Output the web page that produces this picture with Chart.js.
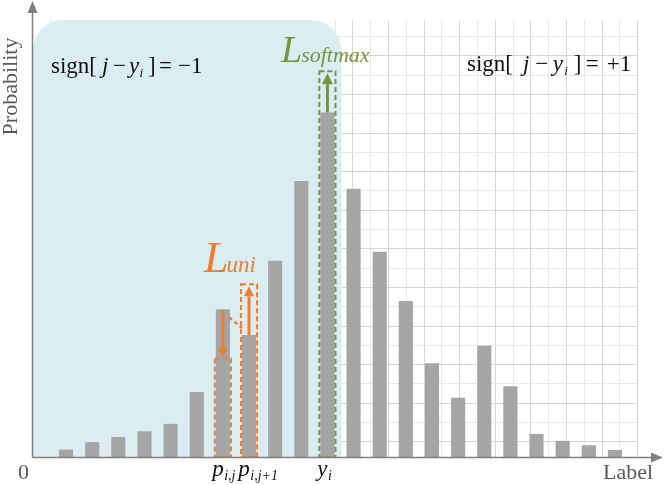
<!DOCTYPE html>
<html>
<head>
<meta charset="utf-8">
<script src="https://cdn.jsdelivr.net/npm/chart.js@4.4.1/dist/chart.umd.min.js"></script>
<style>
  html, body { margin: 0; padding: 0; background: #ffffff; }
  #wrap { width: 664px; height: 485px; }
</style>
</head>
<body>
<div id="wrap"><canvas id="chart" width="664" height="485"></canvas></div>
<script>
// label bins 1..22, predicted probability of each bin
const categories = ["1", "2", "3", "4", "5", "6", "7", "8", "9", "10", "11",
  "12", "13", "14", "15", "16", "17", "18", "19", "20", "21", "22"];
const probabilities = [0.017, 0.034, 0.046, 0.059, 0.076, 0.149, 0.339, 0.280, 0.450, 0.633, 0.790,
  0.615, 0.471, 0.358, 0.215, 0.136, 0.255, 0.162, 0.053, 0.037, 0.027, 0.016];

// annotated bins (indices into categories)
const trueIndex = 10;          // y_i
const uniIndices = [6, 7];     // p_{i,j}, p_{i,j+1}
const uniTargets = [0.226, 0.396];
const softmaxTarget = 0.885;

const tickMarks = [
  { index: 6, base: "p", sub: "i,j" },
  { index: 7, base: "p", sub: "i,j+1" },
  { index: 10, base: "y", sub: "i" },
];

const COLORS = {
  bar: "#a5a5a5",
  region: "#daedf3",
  grid: "#d6d6d6",
  gridLight: "#e8e8e8",
  axis: "#808080",
  axisText: "#595959",
  orange: "#ed7d31",
  green: "#77933c",
  text: "#111111",
};

const SERIF = "'Liberation Serif', 'DejaVu Serif', serif";

function arrow(ctx, x, yFrom, yTo, color, lw, headLen, headHalf) {
  const dir = yTo > yFrom ? 1 : -1;
  ctx.save();
  ctx.strokeStyle = color;
  ctx.fillStyle = color;
  ctx.lineWidth = lw;
  ctx.setLineDash([]);
  ctx.beginPath();
  ctx.moveTo(x, yFrom);
  ctx.lineTo(x, yTo - dir * headLen);
  ctx.stroke();
  ctx.beginPath();
  ctx.moveTo(x, yTo);
  ctx.lineTo(x - headHalf, yTo - dir * headLen);
  ctx.lineTo(x + headHalf, yTo - dir * headLen);
  ctx.closePath();
  ctx.fill();
  ctx.restore();
}

function dashedBox(ctx, bar, yTop, color) {
  ctx.save();
  ctx.strokeStyle = color;
  ctx.lineWidth = 2;
  ctx.setLineDash([5, 3]);
  const l = bar.x - bar.width / 2 - 1;
  const r = bar.x + bar.width / 2 + 1;
  ctx.strokeRect(l, yTop, r - l, bar.base - yTop);
  ctx.restore();
}

// sign[ j - y_i ] = +-1 written piece by piece
function signText(ctx, x, y, rhs, stretch) {
  const runs = [
    { t: "sign[", f: "23px", dx: 0 },
    { t: "j", f: "italic 23px", dx: 51 },
    { t: "\u2212", f: "23px", dx: 62 },
    { t: "y", f: "italic 23px", dx: 78 },
    { t: "i", f: "italic 13px", dx: 88.5, dy: 4 },
    { t: "]", f: "23px", dx: 97 },
    { t: "=", f: "23px", dx: 108 },
    { t: rhs, f: "23px", dx: 127 },
  ];
  ctx.save();
  ctx.fillStyle = COLORS.text;
  ctx.textBaseline = "alphabetic";
  ctx.textAlign = "left";
  runs.forEach((r) => {
    ctx.font = r.f + " " + SERIF;
    ctx.fillText(r.t, x + r.dx * stretch, y + (r.dy || 0));
  });
  ctx.restore();
}

const decorations = {
  id: "decorations",
  beforeDatasetsDraw(chart) {
    const ctx = chart.ctx;
    const meta = chart.getDatasetMeta(0);
    const base = meta.data[0].base;

    // background grid
    ctx.save();
    ctx.lineWidth = 1;
    for (let k = 0; k <= 34; k++) {
      const x = Math.round(32 + k * 17.8) + 0.5;
      ctx.strokeStyle = k % 2 ? COLORS.gridLight : COLORS.grid;
      ctx.beginPath();
      ctx.moveTo(x, 20);
      ctx.lineTo(x, base);
      ctx.stroke();
    }
    for (let k = 0; k <= 21; k++) {
      const y = Math.round(441.3 - k * 19.3) + 0.5;
      ctx.strokeStyle = k % 2 ? COLORS.gridLight : COLORS.grid;
      ctx.beginPath();
      ctx.moveTo(32, y);
      ctx.lineTo(637, y);
      ctx.stroke();
    }

    // shaded region for j < y_i
    const right = meta.data[trueIndex].x + 14;
    ctx.fillStyle = COLORS.region;
    ctx.beginPath();
    ctx.roundRect(33, 20, right - 33, base - 20, [30, 30, 0, 0]);
    ctx.fill();
    ctx.restore();
  },
  afterDatasetsDraw(chart) {
    const ctx = chart.ctx;
    const y = chart.scales.y;
    const meta = chart.getDatasetMeta(0);
    const b0 = meta.data[uniIndices[0]];
    const b1 = meta.data[uniIndices[1]];
    const bt = meta.data[trueIndex];

    // L_uni boxes and arrows
    const t0 = y.getPixelForValue(uniTargets[0]);
    const t1 = y.getPixelForValue(uniTargets[1]);
    dashedBox(ctx, b0, t0, COLORS.orange);
    dashedBox(ctx, b1, t1, COLORS.orange);
    arrow(ctx, b0.x, b0.y + 1, t0 - 1, COLORS.orange, 3, 10, 5);
    arrow(ctx, b1.x, b1.y, t1 + 2, COLORS.orange, 3, 10, 5);
    ctx.save();
    ctx.strokeStyle = COLORS.orange;
    ctx.lineWidth = 2.5;
    ctx.setLineDash([4, 3]);
    ctx.beginPath();
    ctx.moveTo(b0.x + 6, b0.y + 8);
    ctx.lineTo(b1.x - 7, b1.y - 7);
    ctx.stroke();
    ctx.restore();

    // L_softmax box and arrow
    const ts = y.getPixelForValue(softmaxTarget);
    dashedBox(ctx, bt, ts, COLORS.green);
    arrow(ctx, bt.x, bt.y, ts + 2, COLORS.green, 3, 11, 5.5);

    ctx.save();
    ctx.textBaseline = "alphabetic";
    ctx.textAlign = "left";
    ctx.fillStyle = COLORS.orange;
    ctx.font = "italic 44px " + SERIF;
    const lw = ctx.measureText("L").width;
    ctx.fillText("L", 204, 272);
    ctx.font = "italic 23px " + SERIF;
    ctx.fillText("uni", 204 + lw - 2, 272);
    ctx.fillStyle = COLORS.green;
    ctx.font = "italic 38px " + SERIF;
    const ls = ctx.measureText("L").width;
    ctx.fillText("L", 281, 62);
    ctx.font = "italic 22px " + SERIF;
    ctx.fillText("softmax", 281 + ls - 1, 62);
    ctx.restore();

    signText(ctx, 51, 73, "\u22121", 1);
    signText(ctx, 467, 71, "+1", 1.1);

    // axes with arrow heads
    const axisY = meta.data[0].base + 0.5;
    ctx.save();
    ctx.strokeStyle = COLORS.axis;
    ctx.fillStyle = COLORS.axis;
    ctx.lineWidth = 1.5;
    ctx.beginPath();
    ctx.moveTo(32.5, axisY);
    ctx.lineTo(32.5, 12);
    ctx.moveTo(32.5, axisY);
    ctx.lineTo(652, axisY);
    ctx.stroke();
    ctx.beginPath();
    ctx.moveTo(32.5, 1);
    ctx.lineTo(27.5, 13);
    ctx.lineTo(37.5, 13);
    ctx.closePath();
    ctx.moveTo(663, axisY);
    ctx.lineTo(651, axisY - 5);
    ctx.lineTo(651, axisY + 5);
    ctx.closePath();
    ctx.fill();

    ctx.fillStyle = COLORS.axisText;
    ctx.font = "22px " + SERIF;
    ctx.textAlign = "center";
    ctx.fillText("0", 23.5, 479);
    ctx.textAlign = "left";
    ctx.fillText("Label", 603, 479);
    ctx.translate(17, 86.5);
    ctx.rotate(-Math.PI / 2);
    ctx.textAlign = "center";
    ctx.fillText("Probability", 0, 0);
    ctx.restore();

    // bin labels under the annotated bars
    ctx.save();
    ctx.fillStyle = COLORS.text;
    ctx.textAlign = "left";
    tickMarks.forEach((m) => {
      const bar = meta.data[m.index];
      ctx.font = "italic 23px " + SERIF;
      const w = ctx.measureText(m.base).width;
      const x0 = bar.x - 5 - w / 2;
      ctx.fillText(m.base, x0, 476);
      ctx.font = "italic 14px " + SERIF;
      ctx.fillText(m.sub, x0 + w + 0.5, 480);
    });
    ctx.restore();
  },
};

new Chart(document.getElementById("chart"), {
  type: "bar",
  data: {
    labels: categories,
    datasets: [
      {
        data: probabilities,
        backgroundColor: COLORS.bar,
        borderWidth: 0,
        barPercentage: 0.54,
        categoryPercentage: 1,
      },
    ],
  },
  options: {
    responsive: false,
    animation: false,
    layout: { padding: { left: 53, right: 36, top: 21, bottom: 28 } },
    scales: {
      x: { display: false },
      y: { display: false, min: 0, max: 1 },
    },
    plugins: {
      legend: { display: false },
      tooltip: { enabled: false },
    },
  },
  plugins: [decorations],
});
</script>
</body>
</html>
